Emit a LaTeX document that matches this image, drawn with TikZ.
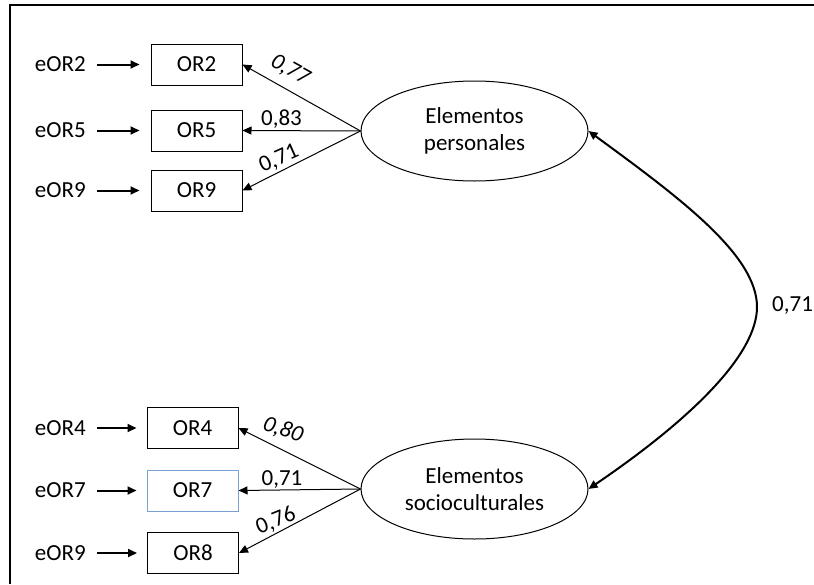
\documentclass[tikz,border=0pt]{standalone}
\usepackage{fontspec}
\setmainfont{Carlito}
\usetikzlibrary{arrows.meta,shapes.geometric}
\definecolor{boxblue}{RGB}{120,160,210}
\begin{document}
\begin{tikzpicture}[x=1pt,y=-1pt,
  every node/.style={font=\fontsize{23}{27}\selectfont},
  obs/.style={draw,line width=1pt,minimum width=91pt,minimum height=41pt,inner sep=0pt},
  err/.style={inner sep=0pt,anchor=east},
  lat/.style={draw,ellipse,line width=1pt,minimum width=227pt,minimum height=100pt,inner sep=0pt,align=center},
  tipA/.style={-{Triangle[length=9pt,width=8pt]}},
  errarrow/.style={tipA,line width=2pt,shorten <=11pt,shorten >=11pt},
  load/.style={tipA,line width=1pt},
  lbl/.style={inner sep=0pt}]
\useasboundingbox (0,0) rectangle (814,584);
% frame (top and left edges)
\draw[line width=2.5pt] (814,5) -- (10,5) -- (10,584);
% latent variables
\node[lat] (P) at (474.5,131) {Elementos\\personales};
\node[lat] (S) at (474.5,489) {Elementos\\socioculturales};
% observed
\node[obs] (OR2) at (196.5,64.5) {OR2};
\node[obs] (OR5) at (196.5,130.5) {OR5};
\node[obs] (OR9) at (196.5,190.5) {OR9};
\node[obs] (OR4) at (192.5,428) {OR4};
\node[obs,draw=boxblue] (OR7) at (192.5,490.5) {OR7};
\node[obs] (OR8) at (193,553) {OR8};
% errors
\node[err] (e2) at (86,64.5) {eOR2};
\node[err] (e5) at (86,130.5) {eOR5};
\node[err] (e9) at (86,190.5) {eOR9};
\node[err] (e4) at (86,428) {eOR4};
\node[err] (e7) at (86,490.5) {eOR7};
\node[err] (e8) at (86,553) {eOR9};
\draw[errarrow] (e2.east) -- (OR2.west);
\draw[errarrow] (e5.east) -- (OR5.west);
\draw[errarrow] (e9.east) -- (OR9.west);
\draw[errarrow,shorten >=10pt] (e4.east) -- (OR4.west);
\draw[errarrow,shorten >=10pt] (e7.east) -- (OR7.west);
\draw[errarrow,shorten >=10pt] (e8.east) -- (OR8.west);
% loadings
\draw[load] (P.west) -- (OR2.east);
\draw[load] (P.west) -- (OR5.east);
\draw[load] (P.west) -- (OR9.east);
\draw[load] (S.west) -- (OR4.east);
\draw[load] (S.west) -- (OR7.east);
\draw[load] (S.west) -- (OR8.east);
\node[lbl,rotate=-29,font=\fontsize{23}{27}\selectfont\itshape] (l77) at (290,70) {0,77};
\node[lbl] (l83) at (281.5,119) {0,83};
\node[lbl,rotate=24] (l71a) at (279,159) {0,71};
\node[lbl,rotate=-20,font=\fontsize{23}{27}\selectfont\itshape] (l80) at (283,430) {0,80};
\node[lbl] (l71b) at (282,480) {0,71};
\node[lbl,rotate=22] (l76) at (276,521) {0,76};
% covariance
\coordinate (peak) at (757,307);
\draw[{Triangle[length=9pt,width=8pt]}-{Triangle[length=9pt,width=8pt]},line width=2pt]
  (P.east) .. controls (680,198) and (757,255) .. (peak)
  .. controls (757,355) and (690,420) .. (S.east);
\node[lbl,anchor=west] (l71c) at (772,306) {0,71};
\end{tikzpicture}
\end{document}
